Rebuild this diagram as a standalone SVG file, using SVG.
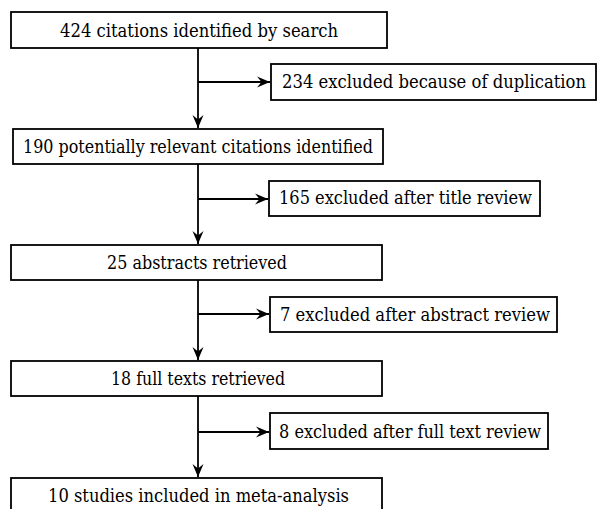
<svg xmlns="http://www.w3.org/2000/svg" width="598" height="509" viewBox="0 0 598 509">
<defs>
<style>
.box{fill:#fff;stroke:#000;stroke-width:1.8}
.t{font-family:'DejaVu Serif Condensed','DejaVu Serif','Liberation Serif',serif;font-size:18.5px;fill:#000;text-anchor:middle}
.c{stroke:#000;stroke-width:1.8;fill:none}
</style>
<marker id="ah" viewBox="-14 -6 15 12" refX="0" refY="0" markerWidth="15" markerHeight="12" markerUnits="userSpaceOnUse" orient="auto">
<path d="M0,0 L-13,-5.5 L-8.5,0 L-13,5.5 Z" fill="#000"/>
</marker>
</defs>
<rect width="598" height="509" fill="#fff"/>
<g id="connectors">
<line class="c" x1="198" y1="48" x2="198" y2="128" marker-end="url(#ah)"/>
<line class="c" x1="198" y1="82" x2="270" y2="82" marker-end="url(#ah)"/>
<line class="c" x1="198" y1="164" x2="198" y2="244" marker-end="url(#ah)"/>
<line class="c" x1="198" y1="199" x2="268" y2="199" marker-end="url(#ah)"/>
<line class="c" x1="198" y1="280" x2="198" y2="360" marker-end="url(#ah)"/>
<line class="c" x1="198" y1="314" x2="269" y2="314" marker-end="url(#ah)"/>
<line class="c" x1="198" y1="396" x2="198" y2="477" marker-end="url(#ah)"/>
<line class="c" x1="198" y1="432" x2="269" y2="432" marker-end="url(#ah)"/>
</g>
<g id="n1"><rect class="box" x="11" y="12" width="376" height="36"/><text class="t" x="199" y="37" textLength="278" lengthAdjust="spacingAndGlyphs">424 citations identified by search</text></g>
<g id="n2"><rect class="box" x="271" y="64" width="325" height="36"/><text class="t" x="434" y="88" textLength="304" lengthAdjust="spacingAndGlyphs">234 excluded because of duplication</text></g>
<g id="n3"><rect class="box" x="13" y="129" width="370" height="35"/><text class="t" x="198" y="153" textLength="350" lengthAdjust="spacingAndGlyphs">190 potentially relevant citations identified</text></g>
<g id="n4"><rect class="box" x="269" y="181" width="271" height="35"/><text class="t" x="405.5" y="204" textLength="253" lengthAdjust="spacingAndGlyphs">165 excluded after title review</text></g>
<g id="n5"><rect class="box" x="11" y="245" width="371" height="35"/><text class="t" x="197" y="269" textLength="180" lengthAdjust="spacingAndGlyphs">25 abstracts retrieved</text></g>
<g id="n6"><rect class="box" x="270" y="297" width="287" height="35"/><text class="t" x="415" y="321" textLength="270" lengthAdjust="spacingAndGlyphs">7 excluded after abstract review</text></g>
<g id="n7"><rect class="box" x="11" y="361" width="371" height="35"/><text class="t" x="198" y="385" textLength="174" lengthAdjust="spacingAndGlyphs">18 full texts retrieved</text></g>
<g id="n8"><rect class="box" x="270" y="413" width="278" height="36"/><text class="t" x="410" y="438" textLength="262" lengthAdjust="spacingAndGlyphs">8 excluded after full text review</text></g>
<g id="n9"><rect class="box" x="11" y="478" width="371" height="40"/><text class="t" x="198.5" y="502" textLength="301" lengthAdjust="spacingAndGlyphs">10 studies included in meta-analysis</text></g>
</svg>
